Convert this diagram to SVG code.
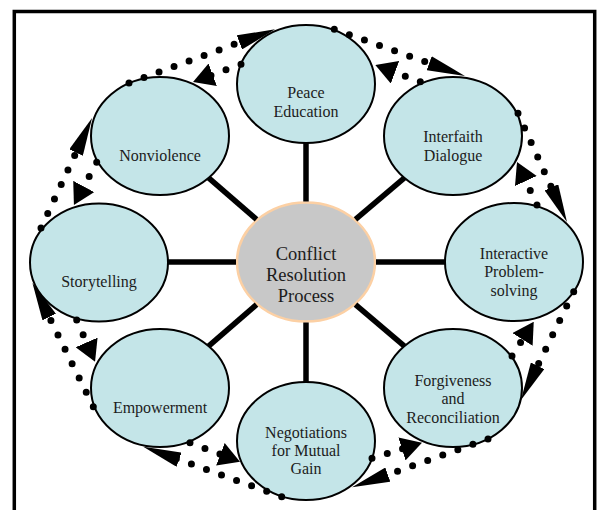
<svg xmlns="http://www.w3.org/2000/svg" width="597" height="510" viewBox="0 0 597 510">
  <style>
    .node ellipse { fill: #c4e5e8; stroke: #000; stroke-width: 2; }
    .hub ellipse { fill: #c8c8c8; stroke: #fcd0a4; stroke-width: 2.5; }
    text { font-family: "Liberation Serif", "Times New Roman", serif; font-size: 16px; fill: #1c1c1c; text-anchor: middle; }
    .hub text { font-size: 18.5px; }
    .spoke { stroke: #000; stroke-width: 5.5; }
    .flow { fill: none; stroke: #000; stroke-width: 7; stroke-linecap: round; stroke-dasharray: 0 16; }
    .cw { marker-end: url(#headLong); }
    .ccw { marker-end: url(#headShort); }
  </style>
  <defs>
    <!-- long head for the clockwise (outer) ring, short head for the counter-clockwise (inner) ring -->
    <marker id="headLong" viewBox="0 0 38 15" markerWidth="38" markerHeight="15" refX="3" refY="7.5" orient="auto" markerUnits="userSpaceOnUse">
      <path d="M0,0 L38,7.5 L0,15 Z" fill="#000"/>
    </marker>
    <marker id="headShort" viewBox="0 0 21 24" markerWidth="21" markerHeight="24" refX="3" refY="12" orient="auto" markerUnits="userSpaceOnUse">
      <path d="M0,0 L21,12 L0,24 Z" fill="#000"/>
    </marker>
  </defs>

  <rect width="597" height="510" fill="#fff"/>
  <!-- outer frame (bottom edge runs past the page) -->
  <rect x="14.3" y="11.5" width="580.4" height="520" fill="none" stroke="#000" stroke-width="3.5"/>

  <!-- nodes -->
  <g id="hub" class="hub">
    <ellipse cx="306" cy="262" rx="69" ry="59.5"/>
    <text><tspan x="306" y="260">Conflict</tspan><tspan x="306" y="281">Resolution</tspan><tspan x="306" y="301.5">Process</tspan></text>
  </g>
  <g id="peace-education" class="node">
    <ellipse cx="306" cy="84" rx="69" ry="59"/>
    <text><tspan x="306" y="98">Peace</tspan><tspan x="306" y="117">Education</tspan></text>
  </g>
  <g id="interfaith-dialogue" class="node">
    <ellipse cx="453" cy="136" rx="69" ry="59"/>
    <text><tspan x="453" y="142">Interfaith</tspan><tspan x="453" y="160.5">Dialogue</tspan></text>
  </g>
  <g id="interactive-problem-solving" class="node">
    <ellipse cx="514" cy="262" rx="69" ry="59"/>
    <text><tspan x="514" y="258.5">Interactive</tspan><tspan x="514" y="277.3">Problem-</tspan><tspan x="514" y="296">solving</tspan></text>
  </g>
  <g id="forgiveness-reconciliation" class="node">
    <ellipse cx="453" cy="388" rx="69" ry="59"/>
    <text><tspan x="453" y="386">Forgiveness</tspan><tspan x="453" y="404.3">and</tspan><tspan x="453" y="422.7">Reconciliation</tspan></text>
  </g>
  <g id="negotiations" class="node">
    <ellipse cx="306" cy="441" rx="69" ry="59"/>
    <text><tspan x="306" y="438.3">Negotiations</tspan><tspan x="306" y="456">for Mutual</tspan><tspan x="306" y="474">Gain</tspan></text>
  </g>
  <g id="empowerment" class="node">
    <ellipse cx="160" cy="388" rx="69" ry="59"/>
    <text x="160" y="413.3">Empowerment</text>
  </g>
  <g id="storytelling" class="node">
    <ellipse cx="99" cy="262.5" rx="69" ry="59"/>
    <text x="99" y="286.7">Storytelling</text>
  </g>
  <g id="nonviolence" class="node">
    <ellipse cx="160" cy="136" rx="69" ry="59"/>
    <text x="160" y="161">Nonviolence</text>
  </g>

  <!-- connectors -->
  <g id="connectors">
    <!-- spokes from the hub, ending on the ellipse rims -->
    <line class="spoke" x1="306" y1="201.5" x2="306" y2="143"/>
    <line class="spoke" x1="306" y1="322.5" x2="306" y2="382"/>
    <line class="spoke" x1="236" y1="262" x2="168" y2="262"/>
    <line class="spoke" x1="376" y1="262" x2="445" y2="262"/>
    <line class="spoke" x1="256.5" y1="219.3" x2="208.6" y2="177.9"/>
    <line class="spoke" x1="355.5" y1="219.3" x2="404.4" y2="177.9"/>
    <line class="spoke" x1="256.5" y1="304.7" x2="208.6" y2="346.1"/>
    <line class="spoke" x1="355.5" y1="304.7" x2="404.4" y2="346.1"/>

    <!-- clockwise ring -->
    <path class="flow cw" d="M41,228 L77.3,149.8"/>
    <path class="flow cw" d="M129,83 L242.2,41.4"/>
    <path class="flow cw" d="M334.3,29.3 L432,64.2"/>
    <path class="flow cw" d="M518,113.3 L552.6,190.1"/>
    <path class="flow cw" d="M573.7,291.7 L536.3,368.5"/>
    <path class="flow cw" d="M488,439 L385,475.6"/>
    <path class="flow cw" d="M281.7,496.7 L176.2,458.6"/>
    <path class="flow cw" d="M93.3,406.7 L47.9,314.4"/>

    <!-- counter-clockwise ring -->
    <path class="flow ccw" d="M241,64.3 L209.9,75.8"/>
    <path class="flow ccw" d="M420.3,81.7 L392.2,71.3"/>
    <path class="flow ccw" d="M537,205 L524.6,178.3"/>
    <path class="flow ccw" d="M512,356 L524.1,336.9"/>
    <path class="flow ccw" d="M372,458.3 L404.8,448.1"/>
    <path class="flow ccw" d="M190,442.7 L223.2,455.3"/>
    <path class="flow ccw" d="M76.7,320 L87.8,345.2"/>
    <path class="flow ccw" d="M96.7,162.3 L82.4,189.1"/>
  </g>
</svg>
